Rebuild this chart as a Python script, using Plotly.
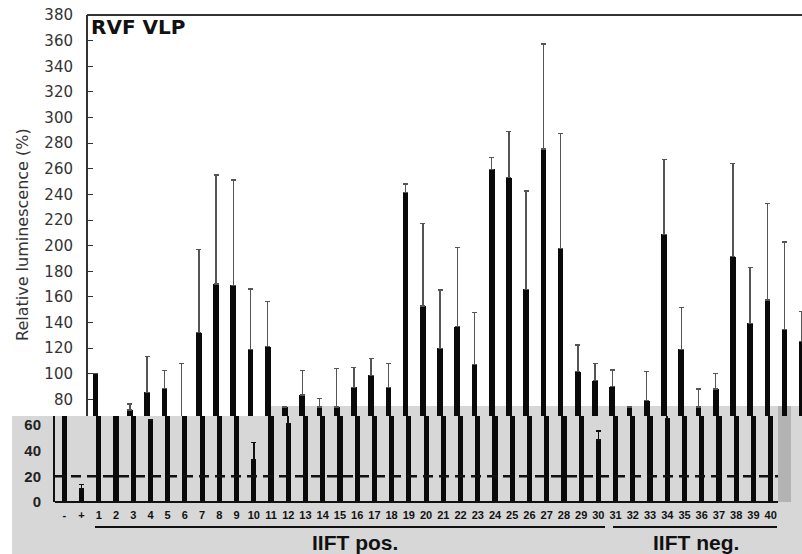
import plotly.graph_objects as go

# ---------------- data ----------------
labels = ['-', '+'] + [str(i) for i in range(1, 41)]

# upper panel (white area) – '-', '+', 1..42 (41, 42 cut off at right edge)
upper_vals = [None, None,
              100.4, None, 71.8, 85.6, 88.4, 62.0, 132.1, 170.1, 169.0, 119.1,
              121.2, 74.0, 83.5, 74.0, 74.0, 89.5, 98.8, 89.5, 241.4, 152.9,
              119.9, 136.8, 107.4, 259.6, 253.1, 166.0, 275.4, 197.6, 101.7, 94.7,
              90.0, 74.0, 79.1, 208.9, 119.1, 74.0, 88.2, 191.4, 139.4, 157.6,
              134.7, 125.1]
upper_err = [0, 0,
             0, 0, 4.7, 27.8, 14.1, 46.0, 65.1, 85.0, 82.3, 47.1,
             35.1, 0, 19.0, 6.9, 30.3, 15.6, 13.3, 18.7, 6.7, 64.5,
             45.5, 61.9, 40.3, 9.1, 35.9, 76.7, 82.0, 89.8, 20.8, 13.5,
             13.0, 0, 22.6, 58.5, 32.5, 14.2, 12.2, 72.9, 43.7, 75.5,
             68.2, 23.4]

# lower panel (grey area) – '-', '+', 1..40
lower_vals = [100, 10.1,
              100, 100, 100, 64.0, 100, 100, 100, 100, 100, 33.3,
              100, 61.4, 100, 100, 100, 100, 100, 100, 100, 100,
              100, 100, 100, 100, 100, 100, 100, 100, 100, 48.4,
              100, 100, 100, 65.3, 100, 100, 100, 100, 100, 100]
lower_err = [0, 3.7,
             0, 0, 0, 0, 0, 0, 0, 0, 0, 13.0,
             0, 13.0, 0, 0, 0, 0, 0, 0, 0, 0,
             0, 0, 0, 0, 0, 0, 0, 0, 0, 7.0,
             0, 0, 0, 10.0, 0, 0, 0, 0, 0, 0]

upper_ticks = list(range(80, 381, 20))
lower_ticks = [0, 20, 40, 60]
threshold = 20
Y_MAX = 380
SPLIT = 67.1          # value where the grey panel starts (left part)
SPLIT_RIGHT = 74.9    # grey panel top on the right part

# ---------------- geometry ----------------
W, H = 802, 554
ML, MR, MT, MB = 55, 0, 15, 52
PW, PH = W - ML - MR, H - MT - MB


def px(X):
    return (X - ML) / PW


def py(Y):
    return (H - MB - Y) / PH


x_idx_lower = list(range(len(lower_vals)))
x_idx_upper = list(range(len(upper_vals)))
XR = [-0.54, 42.82]
SHIFT = 0.19

UPPER_FONT = 'DejaVu Sans, Verdana, sans-serif'
LOWER_FONT = 'Liberation Sans, Arial, sans-serif'

fig = go.Figure()

fig.add_trace(go.Bar(
    x=x_idx_lower, y=lower_vals, width=0.30,
    marker=dict(color='#0a0a0a', line=dict(width=0)),
    error_y=dict(type='data', array=lower_err, arrayminus=[0] * len(lower_err),
                 symmetric=False, color='#111', thickness=1.6, width=2.5),
    xaxis='x', yaxis='y', showlegend=False, hoverinfo='skip'))

fig.add_trace(go.Bar(
    x=x_idx_upper, y=upper_vals, width=0.33,
    marker=dict(color='#0a0a0a', line=dict(width=0)),
    error_y=dict(type='data', array=upper_err, arrayminus=[0] * len(upper_err),
                 symmetric=False, color='#555', thickness=1.4, width=2.5),
    xaxis='x2', yaxis='y2', showlegend=False, hoverinfo='skip'))

split_dom = SPLIT / Y_MAX

fig.update_layout(
    width=W, height=H,
    margin=dict(l=ML, r=MR, t=MT, b=MB, pad=0),
    paper_bgcolor='white', plot_bgcolor='rgba(0,0,0,0)',
    font=dict(family=LOWER_FONT, color='#111'),
    xaxis=dict(domain=[0, 1], range=XR, anchor='y',
               tickvals=x_idx_lower, ticktext=labels, ticks='',
               showline=False, showgrid=False, zeroline=False,
               tickfont=dict(size=11, weight='bold', family=LOWER_FONT),
               ticklabelstandoff=5),
    xaxis2=dict(domain=[0, 1], range=[XR[0] + SHIFT, XR[1] + SHIFT], anchor='y2',
                visible=False),
    yaxis=dict(domain=[0, split_dom], range=[0, SPLIT], anchor='x',
               tickvals=lower_ticks, ticks='', showline=True, linecolor='#111',
               linewidth=2, showgrid=False, zeroline=False,
               tickfont=dict(size=15, weight='bold', color='#222', family=LOWER_FONT),
               ticklabelstandoff=9),
    yaxis2=dict(domain=[split_dom, 1], range=[SPLIT, Y_MAX], anchor='free',
                position=px(87), tickvals=upper_ticks, ticks='inside', ticklen=5,
                tickcolor='#333', showline=True, linecolor='#333', linewidth=2,
                showgrid=False, zeroline=False,
                tickfont=dict(size=15, color='#333', family=UPPER_FONT),
                ticklabelstandoff=10),
    bargap=0,
)

shapes = [
    # grey lower panel
    dict(type='rect', xref='paper', yref='paper', x0=px(12), x1=px(802),
         y0=py(554), y1=py(416), fillcolor='#d7d7d7', line=dict(width=0), layer='below'),
    dict(type='rect', xref='paper', yref='paper', x0=px(270), x1=px(802),
         y0=py(416), y1=SPLIT_RIGHT / Y_MAX, fillcolor='#d7d7d7', line=dict(width=0), layer='below'),
    dict(type='rect', xref='paper', yref='paper', x0=px(778), x1=px(791),
         y0=0, y1=SPLIT_RIGHT / Y_MAX, fillcolor='#b3b3b3', line=dict(width=0), layer='below'),
    # x axis line
    dict(type='line', xref='paper', yref='paper', x0=0, x1=px(778), y0=0, y1=0,
         line=dict(color='#111', width=2)),
    # threshold dashed line
    dict(type='line', xref='paper', yref='y', x0=0, x1=px(778), y0=threshold, y1=threshold,
         line=dict(color='#111', width=2.5, dash='10px,6px'), layer='above'),
    # top frame line
    dict(type='line', xref='paper', yref='paper', x0=px(87), x1=1, y0=1, y1=1,
         line=dict(color='#333', width=2)),
    # group underlines
    dict(type='line', xref='paper', yref='paper', x0=px(95), x1=px(605), y0=py(527), y1=py(527),
         line=dict(color='#111', width=2)),
    dict(type='line', xref='paper', yref='paper', x0=px(613), x1=px(777), y0=py(527), y1=py(527),
         line=dict(color='#111', width=2)),
]
fig.update_layout(shapes=shapes)

fig.add_annotation(text='RVF VLP', xref='paper', yref='paper', x=px(89), y=py(27),
                   xanchor='left', yanchor='middle', showarrow=False,
                   font=dict(size=20, weight='bold', color='#111', family=UPPER_FONT))
fig.add_annotation(text='Relative luminescence (%)', xref='paper', yref='paper',
                   x=px(22), y=py(235), textangle=-90, xanchor='center', yanchor='middle',
                   showarrow=False, font=dict(size=16, color='#333', family=UPPER_FONT))
fig.add_annotation(text='IIFT pos.', xref='paper', yref='paper', x=px(355), y=py(542),
                   xanchor='center', yanchor='middle', showarrow=False,
                   font=dict(size=21, weight='bold', color='#111', family=LOWER_FONT))
fig.add_annotation(text='IIFT neg.', xref='paper', yref='paper', x=px(696), y=py(542),
                   xanchor='center', yanchor='middle', showarrow=False,
                   font=dict(size=21, weight='bold', color='#111', family=LOWER_FONT))

fig.write_html('out.html', config={'displayModeBar': False},
               post_script="document.body.style.margin='0px';document.body.style.overflow='hidden';")
